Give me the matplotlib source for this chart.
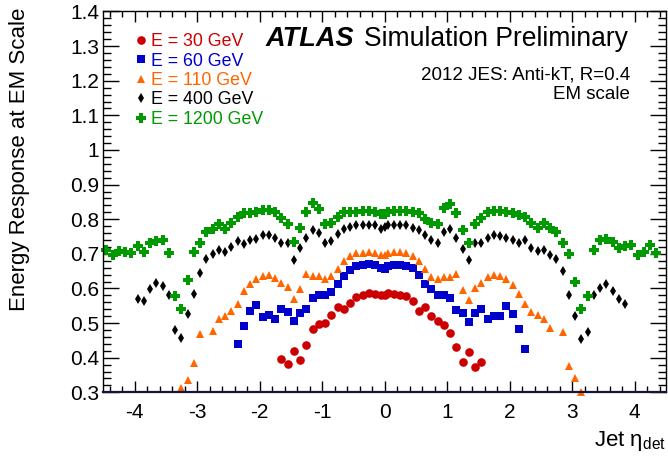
import numpy as np
import matplotlib.pyplot as plt
from matplotlib.ticker import MultipleLocator, FormatStrFormatter

plt.rcParams['font.family'] = ['Liberation Sans', 'DejaVu Sans']
plt.rcParams['mathtext.fontset'] = 'custom'
plt.rcParams['mathtext.rm'] = 'Liberation Sans'
plt.rcParams['mathtext.it'] = 'Liberation Sans:italic'
plt.rcParams['axes.unicode_minus'] = False

nan = np.nan

# eta bin centres (0.1 wide) plus the extra central point at eta = 0
eta = np.concatenate([np.round(np.linspace(-4.45, -0.05, 45), 2), [0.0],
                      np.round(np.linspace(0.05, 4.45, 45), 2)])

# response per bin: -4.45..-4.05 | -3.95..-3.05 | -2.95..-2.05 | -1.95..-1.05 | -0.95..-0.05
#                   | 0 | 0.05..0.95 | 1.05..1.95 | 2.05..2.95 | 3.05..3.95 | 4.05..4.45
resp_1200 = ([0.712, 0.696, 0.708, 0.706, 0.702] +
             [0.724, 0.706, 0.732, 0.738, 0.741, 0.703, 0.579, 0.540, 0.625, 0.704] +
             [0.731, 0.763, 0.772, 0.786, 0.773, 0.789, 0.807, 0.817, 0.817, 0.820] +
             [0.826, 0.826, 0.822, 0.803, 0.786, 0.733, 0.774, 0.820, 0.846, 0.830] +
             [0.786, 0.789, 0.807, 0.820, 0.820, 0.822, 0.824, 0.824, 0.822, 0.815] +
             [0.814] +
             [0.822, 0.824, 0.824, 0.824, 0.820, 0.818, 0.802, 0.790, 0.787, 0.833] +
             [0.845, 0.817, 0.770, 0.732, 0.786, 0.804, 0.821, 0.824, 0.824, 0.820] +
             [0.818, 0.812, 0.807, 0.789, 0.775, 0.788, 0.775, 0.764, 0.731, 0.700] +
             [0.619, 0.541, 0.577, 0.711, 0.741, 0.743, 0.734, 0.716, 0.723, 0.726] +
             [0.698, 0.705, 0.726, 0.702, nan])

resp_400 = ([nan] * 5 +
            [0.569, 0.564, 0.597, 0.617, 0.608, 0.581, 0.480, 0.457, 0.527, 0.585] +
            [0.644, 0.684, 0.700, 0.710, 0.705, 0.720, 0.736, 0.727, 0.739, 0.744] +
            [0.754, 0.753, 0.746, 0.730, 0.730, 0.683, 0.716, 0.746, 0.770, 0.760] +
            [0.731, 0.737, 0.756, 0.771, 0.778, 0.782, 0.784, 0.784, 0.782, 0.772] +
            [0.778] +
            [0.784, 0.784, 0.782, 0.782, 0.776, 0.770, 0.755, 0.739, 0.731, 0.762] +
            [0.772, 0.745, 0.715, 0.681, 0.731, 0.731, 0.746, 0.754, 0.752, 0.746] +
            [0.739, 0.730, 0.739, 0.717, 0.707, 0.710, 0.698, 0.685, 0.651, 0.580] +
            [0.520, 0.453, 0.475, 0.580, 0.601, 0.613, 0.594, 0.570, 0.556, nan] +
            [nan] * 5)

resp_110 = ([nan] * 5 +
            [nan] * 7 + [0.313, 0.337, 0.385] +
            [0.468, nan, 0.477, 0.513, 0.520, 0.535, 0.554, 0.593, 0.612, 0.628] +
            [0.637, 0.638, 0.629, 0.615, 0.604, 0.569, 0.598, 0.642, 0.635, 0.635] +
            [0.628, 0.637, 0.657, 0.680, 0.694, 0.701, 0.703, 0.706, 0.702, 0.697] +
            [0.697] +
            [0.702, 0.704, 0.704, 0.702, 0.695, 0.679, 0.656, 0.633, 0.627, 0.633] +
            [0.633, 0.642, 0.596, 0.567, 0.601, 0.615, 0.633, 0.640, 0.635, 0.627] +
            [0.611, 0.584, 0.556, 0.533, 0.522, 0.512, 0.487, nan, 0.474, 0.375] +
            [0.340, 0.300] + [nan] * 8 +
            [nan] * 5)

resp_60 = ([nan] * 5 +
           [nan] * 10 +
           [nan] * 6 + [0.441, 0.491, 0.536, 0.551] +
           [0.518, 0.522, 0.511, 0.540, 0.532, 0.507, 0.530, 0.542, 0.572, 0.580] +
           [0.581, 0.591, 0.612, 0.635, 0.654, 0.665, 0.669, 0.670, 0.667, 0.659] +
           [0.656] +
           [0.665, 0.668, 0.668, 0.664, 0.658, 0.639, 0.613, 0.598, 0.582, 0.580] +
           [0.571, 0.537, 0.528, 0.504, 0.530, 0.541, 0.512, 0.521, 0.521, 0.549] +
           [0.526, 0.483, 0.424] + [nan] * 7 +
           [nan] * 10 +
           [nan] * 5)

resp_30 = ([nan] * 5 +
           [nan] * 10 +
           [nan] * 10 +
           [nan] * 3 + [0.395, 0.382, 0.418, 0.393, 0.438, 0.482, 0.496] +
           [0.501, 0.522, 0.546, 0.541, 0.557, 0.575, 0.582, 0.586, 0.585, 0.581] +
           [0.580] +
           [0.586, 0.584, 0.582, 0.577, 0.563, 0.534, 0.546, 0.520, 0.507, 0.495] +
           [0.472, 0.431, 0.389, 0.416, 0.373, 0.388] + [nan] * 4 +
           [nan] * 10 +
           [nan] * 10 +
           [nan] * 5)

labels = ['E = 30 GeV', 'E = 60 GeV', 'E = 110 GeV', 'E = 400 GeV', 'E = 1200 GeV']
colors = ['#cc0000', '#0000cc', '#ff6600', '#000000', '#009900']
markers = ['o', 's', '^', 'd', 'P']
sizes = [6.2, 5.8, 6.3, 5.0, 7.4]
series = [resp_30, resp_60, resp_110, resp_400, resp_1200]

fig = plt.figure(figsize=(6.68, 4.65), dpi=100)
ax = fig.add_axes([0.1547, 0.1563, 0.8420, 0.8190])

for vals, lab, c, m, ms in zip(series, labels, colors, markers, sizes):
    ax.plot(eta, vals, linestyle='none', marker=m, markersize=ms, color=c,
            markeredgewidth=0, label=lab, clip_on=False)

ax.set_xlim(-4.5, 4.5)
ax.set_ylim(0.3, 1.4)
ax.xaxis.set_major_locator(MultipleLocator(1))
ax.xaxis.set_minor_locator(MultipleLocator(0.2))
ax.yaxis.set_major_locator(MultipleLocator(0.1))
ax.yaxis.set_minor_locator(MultipleLocator(0.02))
ax.yaxis.set_major_formatter(FormatStrFormatter('%g'))
ax.xaxis.set_major_formatter(FormatStrFormatter('%g'))
ax.tick_params(which='both', direction='in', top=True, right=True, width=1)
ax.tick_params(axis='x', which='major', length=8, pad=8, labelsize=15)
ax.tick_params(axis='x', which='minor', length=4.3)
ax.tick_params(axis='y', which='major', length=11.5, pad=3, labelsize=15)
ax.tick_params(axis='y', which='minor', length=5.8)
for s in ax.spines.values():
    s.set_linewidth(1.0)
ax.spines['bottom'].set_linewidth(1.6)
ax.spines['bottom'].set_color('#14143c')

leg = ax.legend(loc='upper left', bbox_to_anchor=(0.2036, 0.929),
                bbox_transform=fig.transFigure, frameon=False, fontsize=12.8,
                handlelength=0.6, handletextpad=0.22, labelspacing=0.14,
                borderpad=0, borderaxespad=0, labelcolor=colors)

fig.text(266 / 668, 1 - 46 / 465, 'ATLAS', fontsize=19.5, fontweight='bold',
         fontstyle='italic', va='baseline')
fig.text(628 / 668, 1 - 46 / 465, 'Simulation Preliminary', fontsize=19.1,
         ha='right', va='baseline')
fig.text(630 / 668, 1 - 79 / 465, '2012 JES: Anti-kT, R=0.4', fontsize=13.5,
         ha='right', va='baseline')
fig.text(630 / 668, 1 - 99 / 465, 'EM scale', fontsize=13.5,
         ha='right', va='baseline')

fig.text(20 / 668, 1 - 8 / 465, 'Energy Response at EM Scale', fontsize=16,
         rotation=90, ha='center', va='top')
fig.text(666 / 668, 1 - 446 / 465, r'Jet η$_{\mathrm{det}}$', fontsize=16,
         ha='right', va='baseline')

fig.savefig('out.png', dpi=100)
